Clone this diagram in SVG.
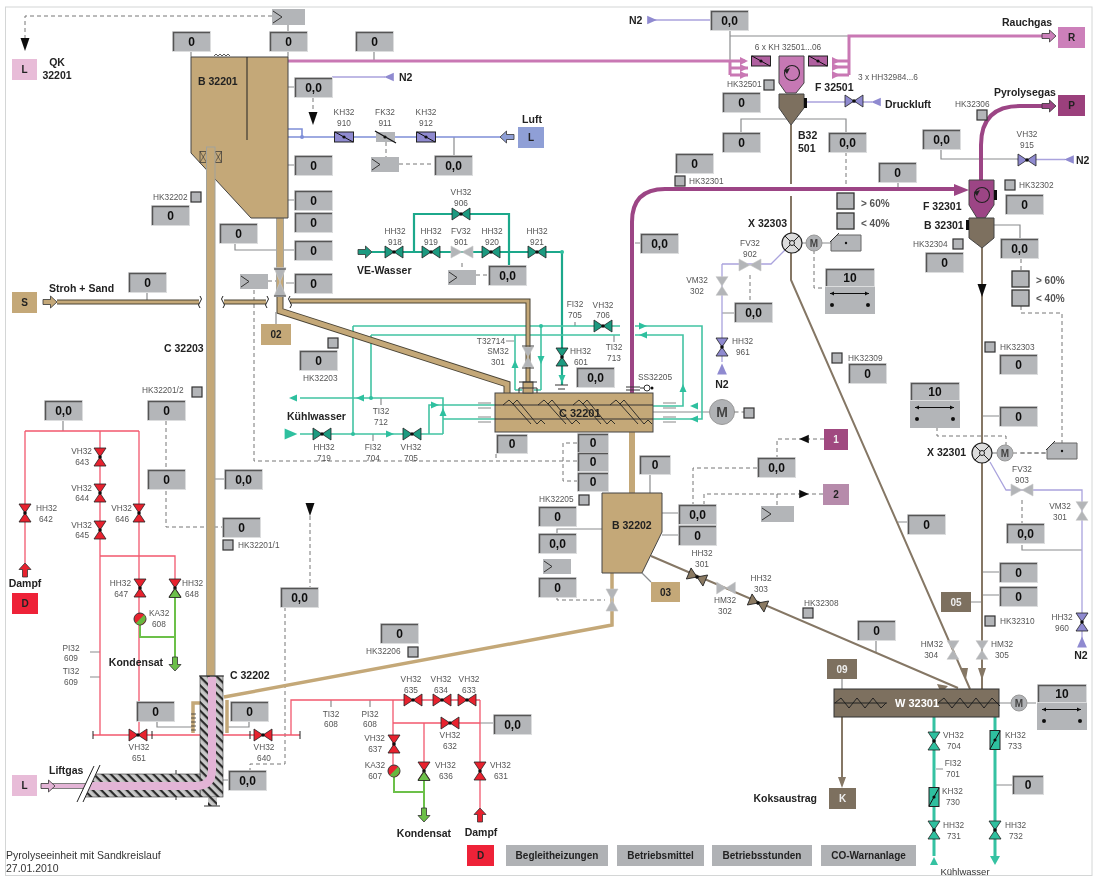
<svg xmlns="http://www.w3.org/2000/svg" width="1096" height="877" viewBox="0 0 1096 877" fill="none">
<style>
text{font-family:"Liberation Sans",Arial,sans-serif}
.l{font-size:8.3px;fill:#555}
.m{text-anchor:middle}
.e{text-anchor:end}
.b{font-size:10.5px;font-weight:bold;fill:#222}
.v{font-size:12px;font-weight:bold;fill:#111;text-anchor:middle}
.t{font-size:10px;font-weight:bold;fill:#222;text-anchor:middle}
.btn{fill:#b0b2b5}
.gy{stroke:#8a8c8e;stroke-width:1.2}
.da{stroke:#777;stroke-width:1;stroke-dasharray:4 3}
.lv{stroke:#aaa3dd;stroke-width:1.3}
.ai{stroke:#7f8fd8;stroke-width:1.6}
.rd{stroke:#f2586e;stroke-width:1.3}
.tl{stroke:#42c3a3;stroke-width:1.6}
.td{stroke:#1fa88b;stroke-width:2.2}
.tb{stroke:#35c2a2;stroke-width:3}
.gn{stroke:#6cc04a;stroke-width:2}
.br{stroke:#857765;stroke-width:2}
.pk{stroke:#c978b4;stroke-width:3}
.pp{stroke:#9c4585;stroke-width:4}
.tnd{stroke:#4a4436;stroke-width:5}
.tn{stroke:#c4a878;stroke-width:3}
.tnw{stroke:#c4a878;stroke-width:3.5}
.vg{fill:#1f9a80}
.vr{fill:#e8202f}
.vl{fill:#8f8ad0}
.vb{fill:#8b7a62}
.vt{fill:#2fc09f}
.tk{stroke:#222;stroke-width:1}
</style>
<defs>
<filter id="soft" x="0" y="0" width="100%" height="100%"><feGaussianBlur stdDeviation="0.4"/></filter>
<g id="b"><rect width="39" height="21" fill="#dcddde"/><rect x="1" y="1" width="37" height="19" fill="#b4b6b9"/><path d="M1.500 20V1.500H38" stroke="#555" stroke-width="1.500"/></g>
<g id="s"><rect width="32" height="20" fill="#dcddde"/><rect x="1" y="1" width="30" height="18" fill="#b4b6b9"/><path d="M1.500 19V1.500H31" stroke="#555" stroke-width="1.500"/></g>
<rect id="q" width="10" height="10" fill="#b3b5b8" stroke="#333" stroke-width="1.200"/>
<rect id="ck" width="17" height="16" fill="#b3b5b8" stroke="#333" stroke-width="1.300"/>
<g id="a"><rect width="28" height="15" fill="#b3b5b8"/><path d="M1 2L9 7.500L1 13" stroke="#333" stroke-width="1"/></g>
<g id="a2"><rect width="33" height="16" fill="#b3b5b8"/><path d="M1 2L10 8L1 14" stroke="#333" stroke-width="1"/></g>
<g id="v"><path d="M-9-6L9 6V-6L-9 6Z" fill="inherit" stroke="#222" stroke-width=".8"/><circle r="1.800" fill="#111"/></g>
<g id="vn"><path d="M-11-6L11 6V-6L-11 6Z" fill="#b3b5b8" stroke="#c8c8c8" stroke-width=".6"/></g>
<g id="f"><rect x="-9.500" y="-5" width="19" height="10" fill="inherit" stroke="#222"/><path d="M-9-5L9 5" stroke="#111" stroke-width="1"/><circle r="1.600" fill="#111"/></g>
<path id="ar" d="M-7-2.500H0.500V-6L7 0L0.500 6V2.500H-7Z" stroke="#333" stroke-width=".8" fill="inherit"/>
<path id="tri" d="M-4-3.500L4 0L-4 3.500Z" fill="inherit"/>
<path id="bk" d="M-4.500 0H4.500L0 13Z" fill="#111"/>
<g id="m"><circle r="8" fill="#b0b2b5" stroke="#999"/><text y="3.500" font-size="10" font-weight="bold" fill="#444" text-anchor="middle">M</text></g>
<g id="x"><circle r="10" fill="#dcdcdc" stroke="#222" stroke-width="1.200"/><path d="M-7-7L7 7M-7 7L7-7" stroke="#222"/><circle r="2.500" fill="#dcdcdc" stroke="#222"/></g>
<g id="g"><path d="M6 0H30V16H0V6Z" fill="#b3b5b8" stroke="#666"/><path d="M-1 7L8-2" stroke="#333"/><circle cx="15" cy="8" r="1.200" fill="#111"/></g>
<g id="sp"><rect width="50" height="46" fill="#b3b5b8"/><rect width="50" height="19" fill="#dcddde"/><rect x="1" y="1" width="48" height="17" fill="#b4b6b9"/><path d="M1.500 18V1.500H49" stroke="#555" stroke-width="1.500"/><path d="M5 25.500H44" stroke="#111" stroke-width="1.200"/><path d="M5 25.500l4-2v4zM44 25.500l-4-2v4z" fill="#111"/><circle cx="7" cy="37" r="2" fill="#111"/><circle cx="43" cy="37" r="2" fill="#111"/></g>
<g id="ka"><circle r="6" fill="#e8202f" stroke="#333"/><path d="M4.200-4.200A6 6 0 0 1-4.200 4.200Z" fill="#66b83f"/></g>
<path id="sc" d="M0 5L6 0L10 4L14 0L34 24L38 20L42 24M10 4L28 24" stroke="#222" stroke-width=".9"/>
<pattern id="h" width="6" height="6" patternUnits="userSpaceOnUse" patternTransform="rotate(45)"><rect width="6" height="6" fill="#c8c8c8"/><rect width="6" height="2.200" fill="#2a2a2a"/></pattern>
</defs>
<g filter="url(#soft)">
<rect width="1096" height="877" fill="#fff"/>
<rect x="5.500" y="7" width="1086.500" height="868.500" stroke="#d4d6d6" stroke-width="1"/>

<g id="connectors">
<path class="da" d="M272 16H25V38M268 281H276M254 290V461H577M496 454V461M577 443H563V481H577M166 421V527H222M285 607V764H250V771M310 516V587M313 98V112M399 164H434M386 142V157M462 263V270M476 275H488M846 152V193M814 250V288H824M750 275V302M1021 259V271M1021 306V313H1062V443M1021 453H1047M937 427V436H1006V445M1022 500V523M824 439H777V457M757 468H693V504M823 494H704V504M777 494V506M557 598V600H605"/>
<path class="gy" d="M288 25V31M191 52V57M288 52V57M374 52V61M294 87H288M294 165H288M294 200H288M235 243V250H294M286 283H294M454 137V155M147 292V302M63 421V431M90 652H100M90 677H100M157 722V727H192M249 722V727H228M224 479H215M228 780H222M331 700V707M370 700V707M480 723H493M741 132V119H846V132M730 31V36H848M730 36V61M941 150V159H1018M994 225H1020V238M898 183V189M635 243H640M506 341H514M575 322V326M614 335V342M381 398V405M373 434V441M842 679V689M995 785H1012M936 769H943M876 641V652M999 703H1036M982 416H999M982 572H999M982 595H999M971 602H982M898 522H907M1022 545V550H1082M722 313H734M802 243H831M653 412H712M662 513H678M662 535H678M602 529H557V533M650 475V493M612 598V612"/>
<path class="lv" d="M332 77H385M648 20H710M807 102H872M1017 159.500H1065M722 264V362M722 264H771L785 250M990 462L1006 490H1082V640"/>
<path class="ai" d="M288 137H500M288 129H302V137"/>
<path class="rd" d="M25 431H139M25 431V563M100 431V735M139 431V735M100 556H175V588M93 735H300M291 735V700H480M393 723H480M393 700V765M424 723V765M480 700V808"/>
<path class="tk" d="M93 731V739M152 731V739M250 731V739M300 731V739"/>
<path class="gn" d="M175 597V657M140 625V637H175M394 777V792H424M424 777V808"/>
<path class="td" d="M372 252H562V385M414 252V214H509V265"/>
<path class="tl" d="M353 326H620M635 326H702V419H653M371 335H620M635 335H683V406H653M353 326V434M371 335V398M300 398H443V434M300 434H443M429 434V405H495M443 419H495M515 335V390M541 326V390M515 390H522M541 390H534"/>
<path class="pk" d="M288 61H730M730 61V75M730 61H745M730 68H748M730 75H748M832 61H849M832 67H849M832 75H849M849 75V36H1050"/>
<path class="pp" d="M632 393V222Q632 189 665 189H960M981 180V145Q981 106 1020 106H1048"/>
<path class="br" d="M791 125V184M791 196V233M791 253V280L970 689M982 248V689M651 556L958 688M842 717V777"/>
<path class="tb" d="M934 717V856M995 717V856"/>
<path style="stroke:#333" stroke-width="1" d="M176 770V800"/>
<path d="M280 218V296" stroke="#a6a6a0" stroke-width="8"/>
<path d="M280 218V296" stroke="#c4a878" stroke-width="6"/>
<path class="tnd" d="M57 302H199M224 302H266M290 301H528V393"/>
<path class="tn" d="M57 302H199M224 302H266M290 301H528V393"/>
<path d="M280 297V311L507 384V393" stroke="#4a4436" stroke-width="7"/>
<path d="M280 297V311L507 384V393" stroke="#c4a878" stroke-width="5"/>
<path class="tnw" style="stroke-width:6" d="M632 432V493"/>
<path class="tnw" d="M612 573V625L224 697M193 733V703H200M227 733V700"/>
<path stroke="#222" d="M200 296q3 3 0 6q-3 3 0 6M223 296q-3 3 0 6q3 3 0 6M267 296q3 3 0 6q-3 3 0 6M290 296q-3 3 0 6q3 3 0 6"/>
<path stroke="#888" d="M478 403H491M478 408H491M478 417H491M478 422H491M663 403H676M663 408H676M663 417H676M663 422H676" stroke-width="1.200"/>
<path stroke="#333" d="M555 385H568M558 389H565M626 387H640M626 390H640M640 388H644"/>
<use href="#tri" class="vt" transform="translate(293 398) rotate(180)"/><use href="#tri" class="vt" transform="translate(360 398) rotate(180)"/><use href="#tri" class="vt" transform="translate(291 434) scale(1.600)"/><use href="#tri" class="vt" transform="translate(390 434)"/><use href="#tri" class="vt" transform="translate(435 405)"/><use href="#tri" class="vt" transform="translate(443 412) rotate(-90)"/><use href="#tri" class="vt" transform="translate(515 364) rotate(-90)"/><use href="#tri" class="vt" transform="translate(541 360) rotate(90)"/><use href="#tri" class="vt" transform="translate(643 326)"/><use href="#tri" class="vt" transform="translate(643 335) rotate(180)"/><use href="#tri" class="vt" transform="translate(683 388) rotate(-90)"/><use href="#tri" class="vt" transform="translate(694 406) rotate(180)"/><use href="#tri" class="vt" transform="translate(694 419) rotate(180)"/><use href="#tri" class="vt" transform="translate(562 379) rotate(90)"/>
<circle cx="353" cy="434" r="2" fill="#2fc09f"/><circle cx="371" cy="398" r="2" fill="#2fc09f"/><circle cx="541" cy="326" r="2" fill="#2fc09f"/><circle cx="562" cy="252" r="2" fill="#2fc09f"/><circle cx="302" cy="137" r="2" fill="#7f8fd8"/><use href="#tri" class="vl" transform="translate(389 77) rotate(180) scale(1.200)"/><use href="#tri" class="vl" transform="translate(652 20) scale(1.200)"/><use href="#tri" class="vl" transform="translate(876 102) rotate(180) scale(1.200)"/><use href="#tri" class="vl" transform="translate(1069 159.500) rotate(180) scale(1.200)"/><use href="#tri" class="vl" transform="translate(722 369) rotate(-90) scale(1.400)"/><use href="#tri" class="vl" transform="translate(1082 642) rotate(-90) scale(1.400)"/>
<path fill="#c978b4" d="M740 57l8 4-8 4zM740 64l8 4-8 4zM740 71l8 4-8 4zM832 57l8 4-8 4zM832 63l8 4-8 4zM832 71l8 4-8 4z"/>
<path fill="#9c4585" d="M954 184l15 6-15 6z"/>
<path fill="#857765" d="M937 684l11 2-7 7zM960 668l8 0-2 11zM978 668h8l-4 12zM838 777h8l-4 11z"/>
<path fill="#35c2a2" d="M934 857l4 8h-8zM990 856h10l-5 9z"/>
</g>

<g id="B32201"><path d="M191 57H288V218H251L191 153Z" fill="#c4a878" stroke="#444" stroke-width="1"/><path d="M247 57V140" stroke="#222" stroke-width="1"/><path d="M214 56l2-2 2 2 2-2 2 2 2-2 2 2 2-2 2 2" stroke="#333" stroke-width=".8"/><text class="b" x="198" y="85">B 32201</text></g>
<g id="C32203"><rect x="200" y="151.500" width="21.500" height="11" fill="#c4a878" stroke="#333" stroke-width=".7"/><path stroke="#333" stroke-width=".6" d="M200 151.500L206.500 162.500M206.500 151.500L200 162.500M215 151.500L221.500 162.500M221.500 151.500L215 162.500"/><rect x="206.500" y="147" width="8.500" height="529" fill="#c4a878" stroke="#a2a29a" stroke-width="1"/><text class="b" x="164" y="352">C 32203</text></g>
<g id="C32202"><rect x="200" y="676" width="23" height="121" fill="url(#h)" stroke="#333" stroke-width=".6"/><path d="M93 774H200V797H85Z" fill="url(#h)" stroke="#333" stroke-width=".6"/><rect x="208" y="797" width="9" height="9" fill="url(#h)"/><path stroke="#333" d="M204 806H220M199 676H224"/><path d="M86 786H196Q212 786 212 770V677" stroke="#e3b4d6" stroke-width="8"/><path d="M49 786H88" stroke="#555" stroke-width="5.500"/><path d="M49 786H88" stroke="#e3b4d6" stroke-width="4"/><path d="M77 802L94 766H100L83 802Z" fill="#fff"/><path stroke="#222" d="M77 802L94 766M83 802L100 765"/><path stroke="#333" stroke-width=".8" d="M196 718h-5M196 722h-5M196 726h-5M196 730h-5M196 714h-5"/><text class="b" x="230" y="679">C 32202</text></g>
<g id="F32501"><path d="M779 56H804V83L796 93H786L779 83Z" fill="#c678b4" stroke="#444"/><circle cx="792" cy="73" r="7.500" stroke="#222" stroke-width="1.100"/><path d="M784 70l6-2-3 6z" fill="#222"/><path d="M779 94H804V108L791 125L779 108Z" fill="#7d705f" stroke="#444"/><rect x="804" y="98" width="3" height="10" fill="#111"/><text class="b" x="815" y="91">F 32501</text><text class="l m" x="788" y="50">6 x KH 32501...06</text><text class="l" x="858" y="80">3 x HH32984...6</text></g>
<g id="F32301"><path d="M969 180H994V205L985 218H977L969 205Z" fill="#9c4585" stroke="#444"/><circle cx="982" cy="195" r="7.500" stroke="#222" stroke-width="1.100"/><path d="M974 192l6-2-3 6z" fill="#222"/><rect x="994" y="190" width="3" height="10" fill="#111"/><path d="M969 218H994V238L982 248L969 238Z" fill="#7d705f" stroke="#444"/><rect x="966" y="220" width="3" height="10" fill="#111"/><text class="b" x="923" y="210">F 32301</text><text class="b" x="924" y="229">B 32301</text></g>
<g id="C32201"><rect x="495" y="393" width="158" height="39" fill="#c4a878" stroke="#444"/><path stroke="#333" d="M495 405H653M495 419H653"/><use href="#sc" x="503" y="400"/><use href="#sc" x="538" y="400"/><use href="#sc" x="573" y="400"/><use href="#sc" x="610" y="400"/><rect x="523" y="382" width="10" height="11" fill="#c4a878" stroke="#444"/><path stroke="#333" d="M519 382H537M519 388H537M519 388V393M537 388V393"/><text class="b" x="559" y="417" style="font-size:11px">C 32201</text></g>
<g id="B32202"><path d="M602 493H662V532L642 573H602Z" fill="#c4a878" stroke="#444"/><text class="b" x="612" y="529">B 32202</text></g>
<g id="W32301"><rect x="834" y="689" width="165" height="28" fill="#7d705f" stroke="#333"/><path stroke="#222" d="M834 703H887M938 703H999M835 703l6-5 8 10 8-10 8 10 8-10 8 10 5-5M938 703l6-5 8 10 8-10 8 10 8-10 8 10 8-10 8 8"/><text x="917" y="707" font-size="11" font-weight="bold" fill="#fff" text-anchor="middle">W 32301</text></g>

<g id="tag-L1"><rect x="12" y="59" width="25" height="21" fill="#e8bcd8"/><text class="t" x="24.500" y="73">L</text><text class="b m" x="57" y="66">QK</text><text class="b m" x="57" y="79">32201</text></g>
<g id="tag-S"><rect x="12" y="292" width="25" height="21" fill="#c4a878"/><text class="t" x="24.500" y="306">S</text><use href="#ar" transform="translate(50 302)" style="fill:#c4a878"/><text class="b" x="49" y="292">Stroh + Sand</text></g>
<g id="tag-D1"><rect x="12" y="593" width="26" height="21" fill="#ee2038"/><text class="t" x="25" y="607">D</text><use href="#ar" transform="translate(25 570) rotate(-90)" style="fill:#e8202f"/><text class="b m" x="25" y="587">Dampf</text></g>
<g id="tag-L2"><rect x="12" y="775" width="25" height="21" fill="#e8bcd8"/><text class="t" x="24.500" y="789">L</text><use href="#ar" transform="translate(48 786)" style="fill:#e3b4d6"/><text class="b" x="49" y="774">Liftgas</text></g>
<g id="tag-02"><rect x="261" y="324" width="30" height="21" fill="#c4a878"/><text class="t" x="276" y="338">02</text><path class="gy" d="M276 312V324"/></g>
<g id="tag-03"><rect x="651" y="582" width="29" height="20" fill="#c4a878"/><text class="t" x="665.500" y="596">03</text><path class="gy" d="M642 573L651 582"/></g>
<g id="tag-05"><rect x="941" y="592" width="30" height="20" fill="#7d705f"/><text class="t" x="956" y="606" style="fill:#eee">05</text></g>
<g id="tag-09"><rect x="827" y="659" width="30" height="20" fill="#7d705f"/><text class="t" x="842" y="673" style="fill:#eee">09</text></g>
<g id="tag-K"><rect x="829" y="788" width="27" height="21" fill="#7d705f"/><text class="t" x="842.500" y="802" style="fill:#eee">K</text><text class="b e" x="817" y="802">Koksaustrag</text></g>
<g id="tag-Lair"><rect x="518" y="127" width="26" height="21" fill="#8f9fd6"/><text class="t" x="531" y="141">L</text><use href="#ar" transform="translate(507 137) rotate(180)" style="fill:#8f9fd6"/><text class="b m" x="532" y="123">Luft</text></g>
<g id="tag-R"><rect x="1058" y="27" width="27" height="21" fill="#cc80ba"/><text class="t" x="1071.500" y="41">R</text><use href="#ar" transform="translate(1049 36)" style="fill:#cc80ba"/><text class="b" x="1002" y="26">Rauchgas</text></g>
<g id="tag-P"><rect x="1058" y="95" width="27" height="21" fill="#9b3f7b"/><text class="t" x="1071.500" y="109">P</text><use href="#ar" transform="translate(1049 106)" style="fill:#9c4585"/><text class="b" x="994" y="96">Pyrolysegas</text></g>
<g id="tag-1"><rect x="824" y="429" width="24" height="21" fill="#a04a80"/><text class="t" x="836" y="443" style="fill:#eee">1</text><use href="#tri" transform="translate(804 439) rotate(180) scale(1.200)" style="fill:#111"/></g>
<g id="tag-2"><rect x="823" y="484" width="26" height="21" fill="#b68bab"/><text class="t" x="836" y="498">2</text><use href="#tri" transform="translate(804 494) scale(1.200)" style="fill:#111"/></g>
<g id="kond1"><use href="#ar" transform="translate(175 664) rotate(90)" style="fill:#6cc04a"/><text class="b m" x="136" y="666">Kondensat</text></g>
<g id="kond2"><use href="#ar" transform="translate(424 815) rotate(90)" style="fill:#6cc04a"/><text class="b m" x="424" y="837">Kondensat</text></g>
<g id="dampf2"><use href="#ar" transform="translate(480 815) rotate(-90)" style="fill:#e8202f"/><text class="b m" x="481" y="836">Dampf</text></g>
<g id="gas-labels"><text class="b" x="629" y="24">N2</text><text class="b" x="399" y="81">N2</text><text class="b" x="885" y="108">Druckluft</text><text class="b" x="1076" y="164">N2</text><text class="b m" x="722" y="388">N2</text><text class="b m" x="1081" y="659">N2</text><text class="b" x="357" y="274">VE-Wasser</text><text class="b" x="287" y="420">Kühlwasser</text><text class="m" x="965" y="875" font-size="9.500" fill="#333">Kühlwasser</text><text class="b" x="798" y="139">B32</text><text class="b" x="798" y="152">501</text><text class="b" x="748" y="227">X 32303</text><text class="b" x="927" y="456">X 32301</text><text x="861" y="207" font-size="10" font-weight="bold" fill="#555">&gt; 60%</text><text x="861" y="227" font-size="10" font-weight="bold" fill="#555">&lt; 40%</text><text x="1036" y="284" font-size="10" font-weight="bold" fill="#555">&gt; 60%</text><text x="1036" y="302" font-size="10" font-weight="bold" fill="#555">&lt; 40%</text></g>

<g id="valves">
<use href="#f" class="vl" x="344" y="137"/><rect x="376" y="132" width="19" height="10" fill="#b3b5b8"/><path d="M375 131L396 143" stroke="#111" stroke-width="1.300"/><circle cx="385" cy="137" r="1.600" fill="#111"/><use href="#f" class="vl" x="426" y="137"/>
<use href="#ar" transform="translate(365 252)" style="fill:#1f9a80"/>
<use href="#v" class="vg" x="394" y="252"/><use href="#v" class="vg" x="431" y="252"/><use href="#vn" x="462" y="252"/><use href="#v" class="vg" x="491" y="252"/><use href="#v" class="vg" x="537" y="252"/><use href="#v" class="vg" x="461" y="214"/>
<use href="#v" class="vg" x="322" y="434"/><use href="#v" class="vg" x="412" y="434"/><use href="#v" class="vg" x="603" y="326"/><use href="#v" class="vg" transform="translate(562 357) rotate(90)"/>
<use href="#vn" transform="translate(528 357) rotate(90) scale(.9 .9)"/><use href="#vn" transform="translate(280 282) rotate(90) scale(1.300 1)"/><use href="#vn" transform="translate(612 600) rotate(90)"/>
<path stroke="#444" d="M274 269H286M274 296H286M522 346H534M522 368H534"/>
<use href="#v" class="vl" x="854" y="101"/><use href="#v" class="vl" x="1027" y="160"/><use href="#vn" x="750" y="265"/><use href="#vn" transform="translate(722 286) rotate(90) scale(.85 1)"/><use href="#v" class="vl" transform="translate(722 347) rotate(90)"/>
<use href="#f" style="fill:#b060a0" x="761" y="61"/><use href="#f" style="fill:#b060a0" x="818" y="61"/>
<use href="#vn" x="1022" y="490"/><use href="#vn" transform="translate(1082 511) rotate(90) scale(.85 1)"/><use href="#v" class="vl" transform="translate(1082 622) rotate(90)"/>
<use href="#vn" transform="translate(953 650) rotate(90) scale(.85 1)"/><use href="#vn" transform="translate(982 650) rotate(90) scale(.85 1)"/>
<use href="#v" class="vb" transform="translate(697 577) rotate(23)"/><use href="#vn" transform="translate(726 588) scale(.85 1)"/><use href="#v" class="vb" transform="translate(758 603) rotate(23)"/>
<use href="#v" class="vr" transform="translate(25 513) rotate(90)"/><use href="#v" class="vr" transform="translate(100 457) rotate(90)"/><use href="#v" class="vr" transform="translate(100 493) rotate(90)"/><use href="#v" class="vr" transform="translate(100 530) rotate(90)"/><use href="#v" class="vr" transform="translate(139 513) rotate(90)"/><use href="#v" class="vr" transform="translate(140 588) rotate(90)"/><use href="#v" class="vr" transform="translate(175 588) rotate(90)"/><path d="M169 597.500h12l-6-9z" fill="#6cc04a" stroke="#222" stroke-width=".8"/>
<use href="#v" class="vr" x="138" y="735"/><use href="#v" class="vr" x="263" y="735"/><use href="#v" class="vr" x="413" y="700"/><use href="#v" class="vr" x="442" y="700"/><use href="#v" class="vr" x="467" y="700"/><use href="#v" class="vr" x="450" y="723"/><use href="#v" class="vr" transform="translate(394 744) rotate(90)"/><use href="#v" class="vr" transform="translate(424 771) rotate(90)"/><path d="M418 780.500h12l-6-9z" fill="#6cc04a" stroke="#222" stroke-width=".8"/><use href="#v" class="vr" transform="translate(480 771) rotate(90)"/>
<use href="#ka" x="140" y="619"/><use href="#ka" x="394" y="771"/>
<use href="#v" class="vt" transform="translate(934 741) rotate(90)"/><use href="#v" class="vt" transform="translate(934 830) rotate(90)"/><use href="#v" class="vt" transform="translate(995 830) rotate(90)"/>
<use href="#f" class="vt" transform="translate(934 797) rotate(-90)"/><use href="#f" class="vt" transform="translate(995 740) rotate(-90)"/>
</g>

<g id="drives"><circle cx="722" cy="412" r="12.500" fill="#b0b2b5" stroke="#999"/><text x="722" y="417" font-size="14" font-weight="bold" fill="#444" text-anchor="middle">M</text><path class="da" d="M734.500 412H744"/><use href="#q" x="744" y="408"/><use href="#x" x="792" y="243"/><use href="#m" x="814" y="243"/><use href="#g" x="831" y="235"/><path class="gy" d="M992 453H997"/><path class="da" d="M1013 453H1047"/><use href="#x" x="982" y="453"/><use href="#m" x="1005" y="453"/><use href="#g" x="1047" y="443"/><use href="#m" x="1019" y="703"/><use href="#sp" x="825" y="268"/><use href="#sp" x="910" y="382"/><use href="#sp" x="1037" y="684"/><text class="v" x="850" y="282">10</text><text class="v" x="935" y="396">10</text><text class="v" x="1062" y="698">10</text><circle cx="647" cy="388" r="3" fill="#fff" stroke="#333"/><circle cx="652" cy="388" r="1.500" fill="#111"/></g>

<g id="actuators"><use href="#a2" x="272" y="9"/><use href="#a" x="240" y="274"/><use href="#a" x="371" y="157"/><use href="#a" x="448" y="270"/><use href="#a" x="543" y="559"/><use href="#a2" x="761" y="506"/><use href="#bk" x="25" y="38"/><use href="#bk" x="313" y="112"/><use href="#bk" x="310" y="503"/><use href="#bk" x="982" y="284"/></g>

<g id="checks"><use href="#ck" x="837" y="193"/><use href="#ck" x="837" y="213"/><use href="#ck" x="1012" y="271"/><use href="#ck" x="1012" y="290"/></g>

<g id="v1"><use href="#b" x="172" y="31"/><text class="v" x="191.500" y="46">0</text></g>
<g id="v2"><use href="#b" x="269" y="31"/><text class="v" x="288.500" y="46">0</text></g>
<g id="v3"><use href="#b" x="355" y="31"/><text class="v" x="374.500" y="46">0</text></g>
<g id="v4"><use href="#b" x="294" y="77"/><text class="v" x="313.500" y="92">0,0</text></g>
<g id="v5"><use href="#b" x="294" y="155"/><text class="v" x="313.500" y="170">0</text></g>
<g id="v6"><use href="#b" x="294" y="190"/><text class="v" x="313.500" y="205">0</text></g>
<g id="v7"><use href="#b" x="294" y="212"/><text class="v" x="313.500" y="227">0</text></g>
<g id="v8"><use href="#b" x="294" y="240"/><text class="v" x="313.500" y="255">0</text></g>
<g id="v9"><use href="#b" x="294" y="273"/><text class="v" x="313.500" y="288">0</text></g>
<g id="v10"><use href="#b" x="219" y="223"/><text class="v" x="238.500" y="238">0</text></g>
<g id="v11"><use href="#b" x="151" y="205"/><text class="v" x="170.500" y="220">0</text></g>
<g id="v12"><use href="#b" x="128" y="272"/><text class="v" x="147.500" y="287">0</text></g>
<g id="v13"><use href="#b" x="710" y="10"/><text class="v" x="729.500" y="25">0,0</text></g>
<g id="v14"><use href="#b" x="434" y="155"/><text class="v" x="453.500" y="170">0,0</text></g>
<g id="v15"><use href="#b" x="488" y="265"/><text class="v" x="507.500" y="280">0,0</text></g>
<g id="v16"><use href="#b" x="675" y="153"/><text class="v" x="694.500" y="168">0</text></g>
<g id="v17"><use href="#b" x="640" y="233"/><text class="v" x="659.500" y="248">0,0</text></g>
<g id="v18"><use href="#b" x="722" y="92"/><text class="v" x="741.500" y="107">0</text></g>
<g id="v19"><use href="#b" x="722" y="132"/><text class="v" x="741.500" y="147">0</text></g>
<g id="v20"><use href="#b" x="828" y="132"/><text class="v" x="847.500" y="147">0,0</text></g>
<g id="v21"><use href="#b" x="878" y="162"/><text class="v" x="897.500" y="177">0</text></g>
<g id="v22"><use href="#b" x="922" y="129"/><text class="v" x="941.500" y="144">0,0</text></g>
<g id="v23"><use href="#b" x="1005" y="194"/><text class="v" x="1024.500" y="209">0</text></g>
<g id="v24"><use href="#b" x="925" y="252"/><text class="v" x="944.500" y="267">0</text></g>
<g id="v25"><use href="#b" x="1000" y="238"/><text class="v" x="1019.500" y="253">0,0</text></g>
<g id="v26"><use href="#b" x="999" y="354"/><text class="v" x="1018.500" y="369">0</text></g>
<g id="v27"><use href="#b" x="999" y="406"/><text class="v" x="1018.500" y="421">0</text></g>
<g id="v28"><use href="#b" x="999" y="562"/><text class="v" x="1018.500" y="577">0</text></g>
<g id="v29"><use href="#b" x="999" y="586"/><text class="v" x="1018.500" y="601">0</text></g>
<g id="v30"><use href="#b" x="1006" y="523"/><text class="v" x="1025.500" y="538">0,0</text></g>
<g id="v31"><use href="#b" x="848" y="363"/><text class="v" x="867.500" y="378">0</text></g>
<g id="v32"><use href="#b" x="907" y="514"/><text class="v" x="926.500" y="529">0</text></g>
<g id="v33"><use href="#b" x="757" y="457"/><text class="v" x="776.500" y="472">0,0</text></g>
<g id="v34"><use href="#b" x="678" y="504"/><text class="v" x="697.500" y="519">0,0</text></g>
<g id="v35"><use href="#b" x="678" y="525"/><text class="v" x="697.500" y="540">0</text></g>
<g id="v36"><use href="#b" x="857" y="620"/><text class="v" x="876.500" y="635">0</text></g>
<g id="v37"><use href="#b" x="734" y="302"/><text class="v" x="753.500" y="317">0,0</text></g>
<g id="v38"><use href="#b" x="299" y="350"/><text class="v" x="318.500" y="365">0</text></g>
<g id="v39"><use href="#b" x="576" y="367"/><text class="v" x="595.500" y="382">0,0</text></g>
<g id="v40"><use href="#s" x="496" y="434"/><text class="v" x="512" y="448">0</text></g>
<g id="v41"><use href="#s" x="577" y="433"/><text class="v" x="593" y="447">0</text></g>
<g id="v42"><use href="#s" x="577" y="452"/><text class="v" x="593" y="466">0</text></g>
<g id="v43"><use href="#s" x="577" y="472"/><text class="v" x="593" y="486">0</text></g>
<g id="v44"><use href="#s" x="639" y="455"/><text class="v" x="655" y="469">0</text></g>
<g id="v45"><use href="#b" x="538" y="506"/><text class="v" x="557.500" y="521">0</text></g>
<g id="v46"><use href="#b" x="538" y="533"/><text class="v" x="557.500" y="548">0,0</text></g>
<g id="v47"><use href="#b" x="538" y="577"/><text class="v" x="557.500" y="592">0</text></g>
<g id="v48"><use href="#b" x="44" y="400"/><text class="v" x="63.500" y="415">0,0</text></g>
<g id="v49"><use href="#b" x="147" y="400"/><text class="v" x="166.500" y="415">0</text></g>
<g id="v50"><use href="#b" x="147" y="469"/><text class="v" x="166.500" y="484">0</text></g>
<g id="v51"><use href="#b" x="224" y="469"/><text class="v" x="243.500" y="484">0,0</text></g>
<g id="v52"><use href="#b" x="222" y="517"/><text class="v" x="241.500" y="532">0</text></g>
<g id="v53"><use href="#b" x="280" y="587"/><text class="v" x="299.500" y="602">0,0</text></g>
<g id="v54"><use href="#b" x="380" y="623"/><text class="v" x="399.500" y="638">0</text></g>
<g id="v55"><use href="#b" x="136" y="701"/><text class="v" x="155.500" y="716">0</text></g>
<g id="v56"><use href="#b" x="230" y="701"/><text class="v" x="249.500" y="716">0</text></g>
<g id="v57"><use href="#b" x="228" y="770"/><text class="v" x="247.500" y="785">0,0</text></g>
<g id="v58"><use href="#b" x="493" y="714"/><text class="v" x="512.500" y="729">0,0</text></g>
<g id="v59"><use href="#s" x="1012" y="775"/><text class="v" x="1028" y="789">0</text></g>

<g id="hk-labels">
<use href="#q" x="191" y="192"/><text class="l" x="153" y="200">HK32202</text>
<use href="#q" x="192" y="387"/><text class="l" x="142" y="393">HK32201/2</text>
<use href="#q" x="223" y="540"/><text class="l" x="238" y="548">HK32201/1</text>
<use href="#q" x="328" y="338"/><text class="l" x="303" y="381">HK32203</text>
<use href="#q" x="408" y="647"/><text class="l" x="366" y="654">HK32206</text>
<use href="#q" x="675" y="176"/><text class="l" x="689" y="184">HK32301</text>
<use href="#q" x="764" y="80"/><text class="l" x="727" y="87">HK32501</text>
<use href="#q" x="977" y="110"/><text class="l" x="955" y="107">HK32306</text>
<use href="#q" x="1005" y="180"/><text class="l" x="1019" y="188">HK32302</text>
<use href="#q" x="953" y="239"/><text class="l" x="913" y="247">HK32304</text>
<use href="#q" x="985" y="342"/><text class="l" x="1000" y="350">HK32303</text>
<use href="#q" x="832" y="353"/><text class="l" x="848" y="361">HK32309</text>
<use href="#q" x="803" y="608"/><text class="l" x="804" y="606">HK32308</text>
<use href="#q" x="985" y="616"/><text class="l" x="1000" y="624">HK32310</text>
<use href="#q" x="579" y="495"/><text class="l" x="539" y="502">HK32205</text>
<text class="l m" x="655" y="380">SS32205</text>
</g>

<g id="valve-labels">
<text class="l m"><tspan x="344" y="115">KH32</tspan><tspan x="344" y="126">910</tspan></text>
<text class="l m"><tspan x="385" y="115">FK32</tspan><tspan x="385" y="126">911</tspan></text>
<text class="l m"><tspan x="426" y="115">KH32</tspan><tspan x="426" y="126">912</tspan></text>
<text class="l m"><tspan x="461" y="195">VH32</tspan><tspan x="461" y="206">906</tspan></text>
<text class="l m"><tspan x="395" y="234">HH32</tspan><tspan x="395" y="245">918</tspan></text>
<text class="l m"><tspan x="431" y="234">HH32</tspan><tspan x="431" y="245">919</tspan></text>
<text class="l m"><tspan x="461" y="234">FV32</tspan><tspan x="461" y="245">901</tspan></text>
<text class="l m"><tspan x="492" y="234">HH32</tspan><tspan x="492" y="245">920</tspan></text>
<text class="l m"><tspan x="537" y="234">HH32</tspan><tspan x="537" y="245">921</tspan></text>
<text class="l m"><tspan x="575" y="307">FI32</tspan><tspan x="575" y="318">705</tspan></text>
<text class="l m"><tspan x="603" y="308">VH32</tspan><tspan x="603" y="318">706</tspan></text>
<text class="l m"><tspan x="614" y="350">TI32</tspan><tspan x="614" y="361">713</tspan></text>
<text class="l e" x="505" y="344">T32714</text>
<text class="l m"><tspan x="498" y="354">SM32</tspan><tspan x="498" y="365">301</tspan></text>
<text class="l"><tspan x="570" y="354">HH32</tspan><tspan x="574" y="365">601</tspan></text>
<text class="l m"><tspan x="381" y="414">TI32</tspan><tspan x="381" y="425">712</tspan></text>
<text class="l m"><tspan x="324" y="450">HH32</tspan><tspan x="324" y="461">719</tspan></text>
<text class="l m"><tspan x="373" y="450">FI32</tspan><tspan x="373" y="461">704</tspan></text>
<text class="l m"><tspan x="411" y="450">VH32</tspan><tspan x="411" y="461">705</tspan></text>
<text class="l m"><tspan x="750" y="246">FV32</tspan><tspan x="750" y="257">902</tspan></text>
<text class="l m"><tspan x="697" y="283">VM32</tspan><tspan x="697" y="294">302</tspan></text>
<text class="l"><tspan x="732" y="344">HH32</tspan><tspan x="736" y="355">961</tspan></text>
<text class="l m"><tspan x="1027" y="137">VH32</tspan><tspan x="1027" y="148">915</tspan></text>
<text class="l m"><tspan x="1022" y="472">FV32</tspan><tspan x="1022" y="483">903</tspan></text>
<text class="l m"><tspan x="1060" y="509">VM32</tspan><tspan x="1060" y="520">301</tspan></text>
<text class="l m"><tspan x="1062" y="620">HH32</tspan><tspan x="1062" y="631">960</tspan></text>
<text class="l m"><tspan x="702" y="556">HH32</tspan><tspan x="702" y="567">301</tspan></text>
<text class="l m"><tspan x="725" y="603">HM32</tspan><tspan x="725" y="614">302</tspan></text>
<text class="l m"><tspan x="761" y="581">HH32</tspan><tspan x="761" y="592">303</tspan></text>
<text class="l e"><tspan x="943" y="647">HM32</tspan><tspan x="938" y="658">304</tspan></text>
<text class="l"><tspan x="991" y="647">HM32</tspan><tspan x="995" y="658">305</tspan></text>
<text class="l"><tspan x="943" y="738">VH32</tspan><tspan x="947" y="749">704</tspan></text>
<text class="l m"><tspan x="953" y="766">FI32</tspan><tspan x="953" y="777">701</tspan></text>
<text class="l"><tspan x="942" y="794">KH32</tspan><tspan x="946" y="805">730</tspan></text>
<text class="l"><tspan x="943" y="828">HH32</tspan><tspan x="947" y="839">731</tspan></text>
<text class="l"><tspan x="1005" y="738">KH32</tspan><tspan x="1008" y="749">733</tspan></text>
<text class="l"><tspan x="1005" y="828">HH32</tspan><tspan x="1009" y="839">732</tspan></text>
<text class="l e"><tspan x="92" y="454">VH32</tspan><tspan x="89" y="465">643</tspan></text>
<text class="l e"><tspan x="92" y="491">VH32</tspan><tspan x="89" y="501">644</tspan></text>
<text class="l e"><tspan x="92" y="528">VH32</tspan><tspan x="89" y="538">645</tspan></text>
<text class="l e"><tspan x="132" y="511">VH32</tspan><tspan x="129" y="522">646</tspan></text>
<text class="l"><tspan x="36" y="511">HH32</tspan><tspan x="39" y="522">642</tspan></text>
<text class="l e"><tspan x="131" y="586">HH32</tspan><tspan x="128" y="597">647</tspan></text>
<text class="l"><tspan x="182" y="586">HH32</tspan><tspan x="185" y="597">648</tspan></text>
<text class="l"><tspan x="149" y="616">KA32</tspan><tspan x="152" y="627">608</tspan></text>
<text class="l m"><tspan x="71" y="651">PI32</tspan><tspan x="71" y="661">609</tspan></text>
<text class="l m"><tspan x="71" y="674">TI32</tspan><tspan x="71" y="685">609</tspan></text>
<text class="l m"><tspan x="139" y="750">VH32</tspan><tspan x="139" y="761">651</tspan></text>
<text class="l m"><tspan x="264" y="750">VH32</tspan><tspan x="264" y="761">640</tspan></text>
<text class="l m"><tspan x="331" y="717">TI32</tspan><tspan x="331" y="727">608</tspan></text>
<text class="l m"><tspan x="370" y="717">PI32</tspan><tspan x="370" y="727">608</tspan></text>
<text class="l m"><tspan x="411" y="682">VH32</tspan><tspan x="411" y="693">635</tspan></text>
<text class="l m"><tspan x="441" y="682">VH32</tspan><tspan x="441" y="693">634</tspan></text>
<text class="l m"><tspan x="469" y="682">VH32</tspan><tspan x="469" y="693">633</tspan></text>
<text class="l m"><tspan x="450" y="738">VH32</tspan><tspan x="450" y="749">632</tspan></text>
<text class="l e"><tspan x="385" y="741">VH32</tspan><tspan x="382" y="752">637</tspan></text>
<text class="l e"><tspan x="385" y="768">KA32</tspan><tspan x="382" y="779">607</tspan></text>
<text class="l"><tspan x="435" y="768">VH32</tspan><tspan x="439" y="779">636</tspan></text>
<text class="l"><tspan x="490" y="768">VH32</tspan><tspan x="494" y="779">631</tspan></text>
</g>

<g id="btn-D"><rect x="467" y="845" width="27" height="21" fill="#ee2038"/><text class="t" x="480.500" y="859">D</text></g>
<g id="btn-1"><rect class="btn" x="506" y="845" width="102" height="21"/><text class="t" x="557" y="859">Begleitheizungen</text></g>
<g id="btn-2"><rect class="btn" x="617" y="845" width="87" height="21"/><text class="t" x="660.500" y="859">Betriebsmittel</text></g>
<g id="btn-3"><rect class="btn" x="712" y="845" width="100" height="21"/><text class="t" x="762" y="859">Betriebsstunden</text></g>
<g id="btn-4"><rect class="btn" x="821" y="845" width="95" height="21"/><text class="t" x="868.500" y="859">CO-Warnanlage</text></g>
<g id="footer"><text x="6" y="859" font-size="10.500" fill="#333">Pyrolyseeinheit mit Sandkreislauf</text><text x="6" y="872" font-size="10.500" fill="#333">27.01.2010</text></g>
</g>
</svg>
